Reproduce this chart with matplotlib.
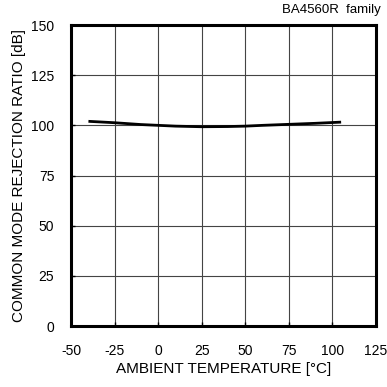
import matplotlib
matplotlib.use("Agg")
import matplotlib.pyplot as plt

plt.rcParams['font.family'] = ['Liberation Sans', 'DejaVu Sans']
plt.rcParams['axes.unicode_minus'] = False

temps = [-40, -25, -10, 0, 10, 25, 40, 50, 60, 75, 90, 105]
cmrr = [102.0, 101.3, 100.4, 100.0, 99.6, 99.3, 99.4, 99.6, 100.0, 100.5, 101.0, 101.6]
xticks = [-50, -25, 0, 25, 50, 75, 100, 125]
yticks = [0, 25, 50, 75, 100, 125, 150]

fig = plt.figure(figsize=(3.87, 3.87), dpi=100)
ax = fig.add_axes([0.1835, 0.1576, 0.788, 0.7778])
ax.plot(temps, cmrr, color='black', lw=2.0, solid_capstyle='butt')
ax.set_xlim(-50, 125)
ax.set_ylim(0, 150)
ax.set_xticks(xticks)
ax.set_yticks(yticks)
ax.grid(True, color='#444444', lw=0.8)
ax.set_axisbelow(True)
for s in ax.spines.values():
    s.set_linewidth(2.2)
    s.set_color('black')
ax.tick_params(direction='in', length=3, width=1, labelsize=10, colors='black')
ax.tick_params(axis='x', pad=13)
ax.tick_params(axis='y', pad=12)
ax.set_xlabel('AMBIENT TEMPERATURE [°C]', fontsize=11, labelpad=3)
ax.set_ylabel('COMMON MODE REJECTION RATIO [dB]', fontsize=11, labelpad=4)
fig.text(0.983, 0.975, 'BA4560R  family', ha='right', va='center', fontsize=9.5)
fig.savefig('out.png', dpi=100)
